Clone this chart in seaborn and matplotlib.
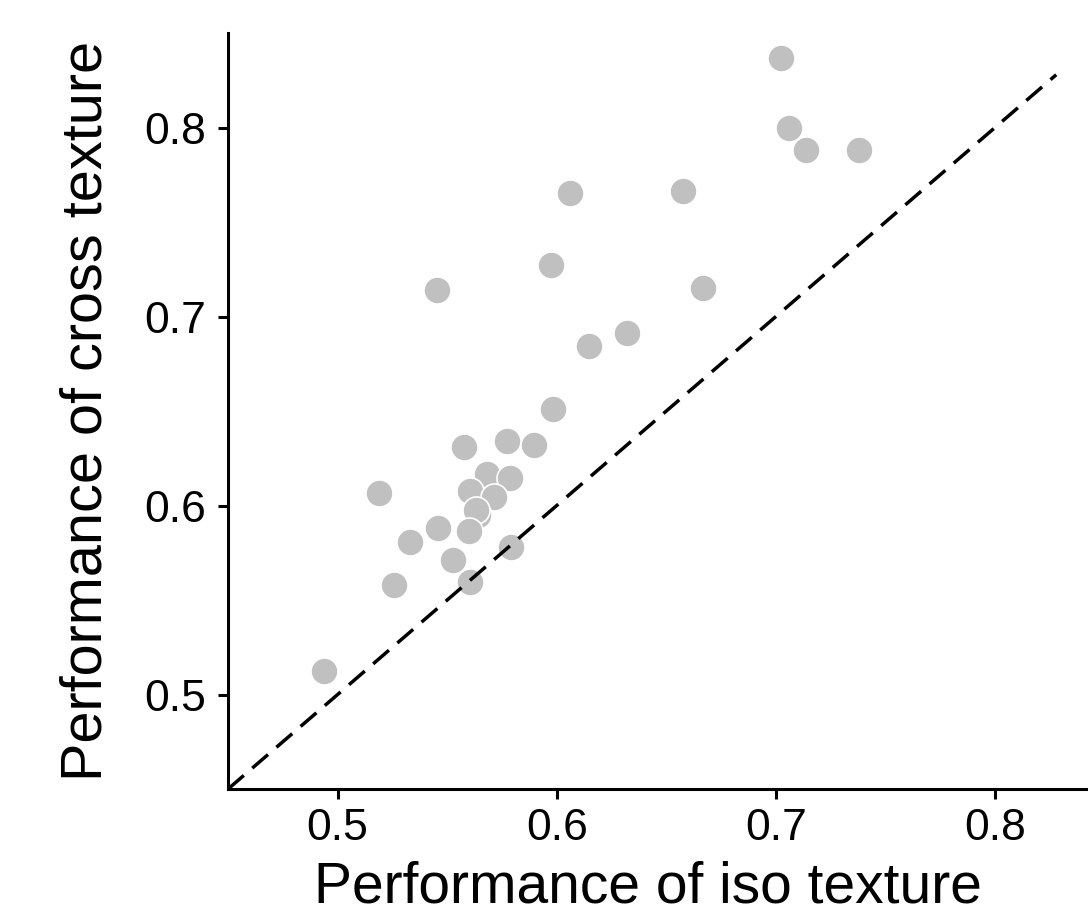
import matplotlib
matplotlib.use("Agg")
import matplotlib.pyplot as plt
import seaborn as sns
import pandas as pd

iso_perf = [0.7026, 0.7059, 0.7137, 0.7380, 0.6063, 0.6577, 0.5976, 0.5453,
            0.6668, 0.6323, 0.6146, 0.5983, 0.5577, 0.5773, 0.5896, 0.5683,
            0.5785, 0.5606, 0.5712, 0.5190, 0.5639, 0.5630, 0.5602, 0.5460,
            0.5329, 0.5790, 0.5528, 0.5604, 0.5259, 0.4936]
cross_perf = [0.8370, 0.7998, 0.7884, 0.7884, 0.7655, 0.7664, 0.7272, 0.7139,
              0.7154, 0.6912, 0.6845, 0.6511, 0.6309, 0.6344, 0.6318, 0.6165,
              0.6144, 0.6075, 0.6046, 0.6065, 0.5949, 0.5976, 0.5866, 0.5879,
              0.5809, 0.5783, 0.5713, 0.5598, 0.5578, 0.5123]
diag = [0.45, 0.828]
ticks = [0.5, 0.6, 0.7, 0.8]

df = pd.DataFrame({"iso": iso_perf, "cross": cross_perf})

sns.set_theme(style="ticks")
plt.rcParams['font.family'] = ['Liberation Sans', 'DejaVu Sans']

fig = plt.figure(figsize=(10.88, 9.21), dpi=100)
ax = fig.add_axes([0.2096, 0.1433, 0.7904, 0.8207])

sns.scatterplot(data=df, x="iso", y="cross", ax=ax, color="#c0c0c0",
                s=380, edgecolor="white", linewidth=1.2, zorder=2)
sns.lineplot(x=diag, y=diag, ax=ax, color="black", linewidth=2.5,
             linestyle=(0, (6, 3.2)), zorder=3)

ax.set_xlim(0.45, 0.8425)
ax.set_ylim(0.45, 0.85)
ax.set_xticks(ticks)
ax.set_yticks(ticks)
ax.set_xticklabels([str(t) for t in ticks])
ax.set_yticklabels([str(t) for t in ticks])
ax.tick_params(labelsize=32, length=7, width=2.2, colors="black")
ax.tick_params(axis="y", pad=9)
ax.tick_params(axis="x", pad=7)
for side in ["left", "bottom"]:
    ax.spines[side].set_linewidth(2.2)
    ax.spines[side].set_color("black")
sns.despine(ax=ax)
ax.set_xlabel("Performance of iso texture", fontsize=41, labelpad=8, color="black")
ax.xaxis.label.set_x(0.488)
ax.set_ylabel("Performance of cross texture", fontsize=41.5, labelpad=22, color="black")

fig.savefig("out.png", dpi=100)
